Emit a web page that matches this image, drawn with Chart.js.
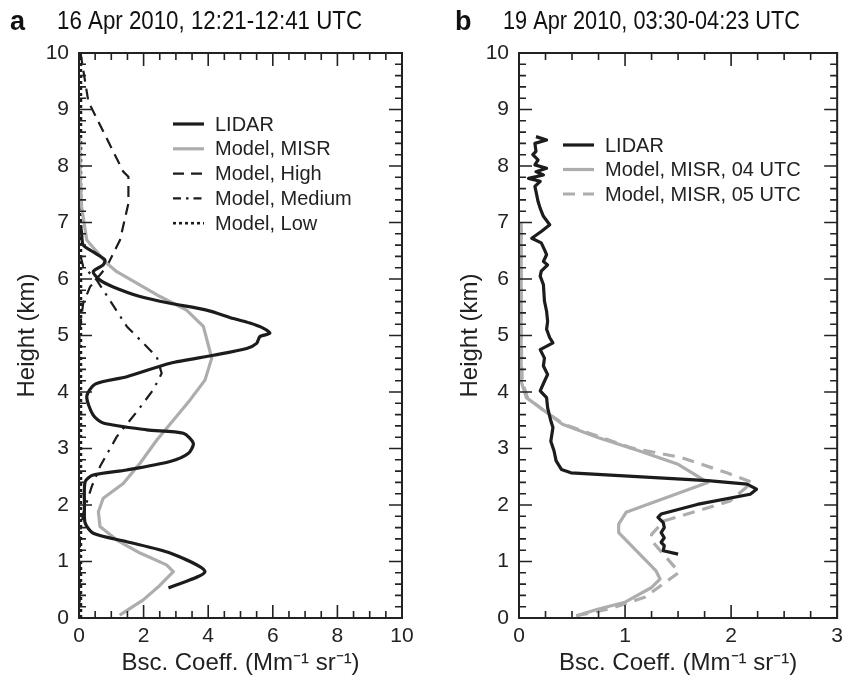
<!DOCTYPE html>
<html lang="en">
<head>
<meta charset="UTF-8">
<title>Backscatter profiles, April 2010</title>
<script src="https://cdn.jsdelivr.net/npm/chart.js@4.4.1/dist/chart.umd.min.js"></script>
<style>
  body { margin: 0; background: #fff; }
  #wrap { position: relative; width: 849px; height: 675px; }
  #wrap canvas { position: absolute; top: 0; }
  #panelA { left: 0; }
  #panelB { left: 424px; }
</style>
</head>
<body>
<div id="wrap">
  <canvas id="panelA" width="424" height="675"></canvas>
  <canvas id="panelB" width="425" height="675"></canvas>
</div>
<script>
// ---- panel a : 16 Apr 2010 ----
const lidarAHeight = [0.53,0.82,1.15,1.35,1.5,1.68,2.0,2.41,2.53,2.62,2.77,2.91,3.09,3.27,3.33,3.45,3.59,3.92,4.14,4.27,4.51,4.65,4.77,4.86,4.98,5.04,5.13,5.22,5.3,5.45,5.57,5.69,5.86,5.98,6.13,6.25,6.34,6.48,6.6,6.81,6.95];
const lidarAValue  = [2.77,3.9,2.82,1.48,0.44,0.19,0.17,0.19,0.44,1.48,2.82,3.38,3.54,3.23,2.1,0.75,0.44,0.24,0.5,1.48,2.82,4.16,5.19,5.5,5.6,5.91,5.7,5.29,4.78,3.95,2.82,1.89,1.06,0.65,0.44,0.75,0.8,0.44,0.13,0.08,0.05];

const misrAHeight = [0.05,0.32,0.58,0.82,0.94,1.15,1.38,1.62,1.88,2.12,2.38,2.74,3.15,3.5,3.86,4.21,4.6,5.16,5.45,5.69,6.13,6.28,6.69,7.28,7.8,8.5];
const misrAValue  = [1.26,1.99,2.51,2.92,2.71,1.89,1.17,0.65,0.6,0.75,1.37,1.89,2.41,2.92,3.44,3.9,4.11,3.85,3.33,2.51,1.17,0.86,0.24,0.08,0.04,0.02];

const highAHeight = [10,9.88,9.14,7.9,7.81,7.34,6.69,6.22,5.86,5.57,5.1,4.5,0];
const highAValue  = [0.05,0.08,0.29,1.37,1.53,1.53,1.27,0.86,0.34,0.13,0.02,0,0];

const mediumAHeight = [6.4,6.22,5.98,5.16,4.62,4.33,4.04,3.65,3.21,2.68,2.32,1.85,1.5,0];
const mediumAValue  = [0.05,0.13,0.55,1.48,2.41,2.56,2.3,1.79,1.17,0.65,0.39,0.13,0.03,0.02];

const lowAHeight = [0,2,4,6,8,10];
const lowAValue  = [0.06,0.06,0.06,0.06,0.06,0.06];

// ---- panel b : 19 Apr 2010 ----
const lidarBHeight = [8.52,8.46,8.4,8.26,8.2,8.11,8.02,7.96,7.9,7.84,7.78,7.73,7.64,7.55,7.37,7.25,7.11,6.96,6.84,6.72,6.64,6.52,6.43,6.31,6.25,6.14,6.05,5.9,5.61,5.43,5.25,5.11,4.96,4.87,4.75,4.6,4.46,4.31,4.19,4.02,3.9,3.72,3.49,3.37,3.13,2.96,2.78,2.63,2.57,2.43,2.37,2.28,2.19,2.01,1.84,1.78,1.69,1.6,1.51,1.42,1.34,1.28,1.19,1.13];
const lidarBValue  = [0.16,0.26,0.15,0.16,0.13,0.18,0.15,0.26,0.16,0.23,0.09,0.2,0.15,0.16,0.18,0.2,0.23,0.29,0.21,0.12,0.21,0.24,0.26,0.23,0.27,0.21,0.2,0.23,0.24,0.26,0.27,0.26,0.29,0.32,0.2,0.24,0.23,0.27,0.24,0.2,0.26,0.27,0.3,0.32,0.3,0.33,0.35,0.4,0.49,1.78,2.15,2.24,2.18,1.68,1.34,1.31,1.36,1.37,1.34,1.37,1.34,1.37,1.36,1.5];

const misr04Height = [0.04,0.16,0.28,0.54,0.69,0.84,1.51,1.66,1.87,2.4,2.72,2.96,3.19,3.43,3.72,3.9,4.19,5,6,7];
const misr04Value  = [0.54,0.75,1.0,1.25,1.33,1.29,0.94,0.94,1.01,1.78,1.5,1.13,0.75,0.41,0.2,0.07,0.02,0.02,0.02,0.02];

const misr05Height = [0.04,0.16,0.37,0.66,0.81,1.37,1.48,1.72,2.07,2.37,2.4,2.57,2.84,3.01,3.2,3.43,3.72,3.9,4.19,5,6,7];
const misr05Value  = [0.54,0.85,1.19,1.4,1.51,1.25,1.25,1.37,1.99,2.18,2.2,1.96,1.53,1.06,0.77,0.42,0.2,0.08,0.03,0.02,0.02,0.02];

const BLACK = '#1c1c1c';
const GREY = '#adadad';
const FONT = 'Arial, "Liberation Sans", sans-serif';

function pts(heights, values) {
  return heights.map((h, i) => ({ x: values[i], y: h }));
}

function line(label, heights, values, color, width, dash, tension) {
  return {
    label: label,
    data: pts(heights, values),
    borderColor: color,
    borderWidth: width,
    borderDash: dash || [],
    tension: tension || 0,
    showLine: true,
    pointRadius: 0,
    fill: false,
    borderJoinStyle: 'round'
  };
}

// frame, inward ticks on all four sides, panel letter, title and legend
function decoPlugin(cfg) {
  return {
    id: 'deco',
    afterDatasetsDraw(chart) {
      const ctx = chart.ctx;
      const { left, right, top, bottom } = chart.chartArea;
      const sx = chart.scales.x, sy = chart.scales.y;
      ctx.save();
      ctx.strokeStyle = '#222';
      ctx.lineWidth = 1.6;
      ctx.beginPath();
      const nx = Math.round((sx.max - sx.min) / cfg.minorX);
      for (let i = 0; i <= nx; i++) {
        const v = sx.min + i * cfg.minorX;
        const len = (i % cfg.perMajorX === 0) ? 13 : 7;
        const p = sx.getPixelForValue(v);
        ctx.moveTo(p, bottom); ctx.lineTo(p, bottom - len);
        ctx.moveTo(p, top); ctx.lineTo(p, top + len);
      }
      const ny = Math.round((sy.max - sy.min) / cfg.minorY);
      for (let i = 0; i <= ny; i++) {
        const v = sy.min + i * cfg.minorY;
        const len = (i % cfg.perMajorY === 0) ? 13 : 7;
        const p = sy.getPixelForValue(v);
        ctx.moveTo(left, p); ctx.lineTo(left + len, p);
        ctx.moveTo(right, p); ctx.lineTo(right - len, p);
      }
      ctx.stroke();
      ctx.lineWidth = 2;
      ctx.strokeRect(left, top, right - left, bottom - top);

      // legend
      ctx.font = '20px ' + FONT;
      ctx.textBaseline = 'middle';
      ctx.textAlign = 'left';
      chart.data.datasets.forEach((ds, i) => {
        const y = cfg.legendY + i * cfg.legendStep;
        ctx.beginPath();
        ctx.strokeStyle = ds.borderColor;
        ctx.lineWidth = ds.borderWidth;
        ctx.setLineDash(ds.legendDash || ds.borderDash);
        ctx.moveTo(cfg.legendX, y);
        ctx.lineTo(cfg.legendX + 31, y);
        ctx.stroke();
        ctx.setLineDash([]);
        ctx.fillStyle = '#222';
        ctx.fillText(ds.label, cfg.legendX + 42, y + 1);
      });

      // letter + title
      ctx.fillStyle = '#111';
      ctx.textBaseline = 'alphabetic';
      ctx.font = 'bold 27px ' + FONT;
      ctx.fillText(cfg.letter, cfg.letterX, 30);
      ctx.font = '25px ' + FONT;
      ctx.fillText(cfg.title, cfg.titleX, 29, cfg.titleW);
      ctx.restore();
    }
  };
}

function axisOpts(max, step, titleText, fitKey, fitVal, titlePad) {
  return {
    type: 'linear',
    min: 0,
    max: max,
    grid: { display: false, drawTicks: false },
    border: { display: false },
    ticks: { stepSize: step, color: '#222', font: { size: 21, family: FONT }, padding: fitKey === 'height' ? 6 : 10, maxRotation: 0 },
    title: { display: true, text: titleText, color: '#222', font: { size: 24, family: FONT, lineHeight: 1 }, padding: titlePad },
    afterFit: s => { s[fitKey] = fitVal; }
  };
}

function makeChart(id, datasets, xMax, xStep, yWidth, yTitlePad, padRight, cfg) {
  return new Chart(document.getElementById(id), {
    type: 'scatter',
    data: { datasets: datasets },
    options: {
      responsive: false,
      animation: false,
      devicePixelRatio: 1,
      layout: { padding: { top: 53, right: padRight, left: 0, bottom: 0 } },
      plugins: { legend: { display: false }, tooltip: { enabled: false }, title: { display: false } },
      scales: {
        x: axisOpts(xMax, xStep, 'Bsc. Coeff. (Mm\u207B\u00B9 sr\u207B\u00B9)', 'height', 57, { top: 0, bottom: 0 }),
        y: axisOpts(10, 1, 'Height (km)', 'width', yWidth, { top: yTitlePad, bottom: 0 })
      }
    },
    plugins: [decoPlugin(cfg)]
  });
}

const dsA = [
  line('LIDAR', lidarAHeight, lidarAValue, BLACK, 3.2, [], 0.25),
  line('Model, MISR', misrAHeight, misrAValue, GREY, 3.2),
  line('Model, High', highAHeight, highAValue, BLACK, 2.2, [11, 7]),
  line('Model, Medium', mediumAHeight, mediumAValue, BLACK, 2.2, [11, 7, 2.5, 7]),
  line('Model, Low', lowAHeight, lowAValue, BLACK, 2.6, [3, 3])
];
dsA[3].legendDash = [8, 5, 2.5, 5];

const dsB = [
  line('LIDAR', lidarBHeight, lidarBValue, BLACK, 3.2),
  line('Model, MISR, 04 UTC', misr04Height, misr04Value, GREY, 3.2),
  line('Model, MISR, 05 UTC', misr05Height, misr05Value, GREY, 3.2, [12, 8])
];

makeChart('panelA', dsA, 10, 2, 79, 15, 22, {
  minorX: 0.5, perMajorX: 4, minorY: 0.2, perMajorY: 5,
  legendX: 173, legendY: 124, legendStep: 24.8,
  letter: 'a', letterX: 10, title: '16 Apr 2010, 12:21-12:41 UTC', titleX: 57, titleW: 305
});
makeChart('panelB', dsB, 3, 1, 95, 34, 8, {
  minorX: 0.25, perMajorX: 4, minorY: 0.2, perMajorY: 5,
  legendX: 139, legendY: 145, legendStep: 24.5,
  letter: 'b', letterX: 31, title: '19 Apr 2010, 03:30-04:23 UTC', titleX: 79, titleW: 297
});
</script>
</body>
</html>
